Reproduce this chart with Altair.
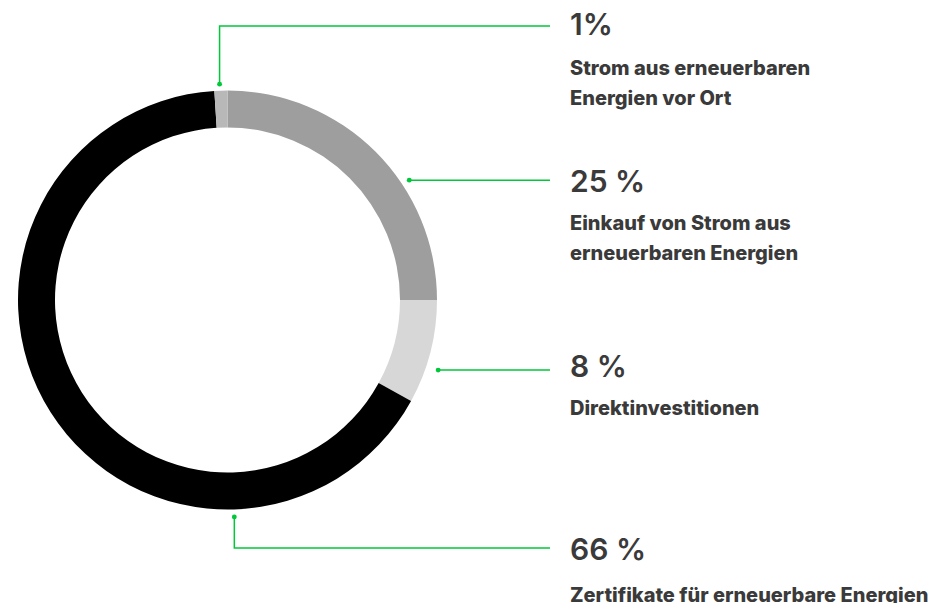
import math
import altair as alt
import pandas as pd

# ---- data (clockwise from 12 o'clock) ----
categories = [
    "Einkauf von Strom aus erneuerbaren Energien",
    "Direktinvestitionen",
    "Zertifikate für erneuerbare Energien",
    "Strom aus erneuerbaren Energien vor Ort",
]
shares = [25, 8, 66, 1]
pct_labels = ["25 %", "8 %", "66 %", "1%"]
desc_lines = [
    ["Einkauf von Strom aus", "erneuerbaren Energien"],
    ["Direktinvestitionen"],
    ["Zertifikate für erneuerbare Energien"],
    ["Strom aus erneuerbaren", "Energien vor Ort"],
]
colors = ["#9e9e9e", "#d7d7d7", "#000000", "#b8b8b8"]

# ---- layout (page pixel coordinates) ----
W, H = 931, 595
CX, CY = 227.5, 300.0
R_OUT, R_IN = 209.5, 172.5
anchor_angle = [56.6, 108.4, 178.2, 357.9]   # degrees, clockwise from top
anchor_radius = [217.7, 222.0, 217.0, 216.0]
row_y = [180.3, 370.0, 548.0, 26.0]          # leader horizontal level
pct_base = [192.0, 377.0, 560.0, 35.0]
desc_base = [229.5, 415.0, 601.5, 74.5]
LEADER_END = 550.0
TEXT_X = 570.0
GREEN = "#00c83a"
TEXT_COLOR = "#3a3a3a"

xs = alt.Scale(domain=[8, 8 + W], nice=False, zero=False)
ys = alt.Scale(domain=[8, 8 + H], nice=False, zero=False, reverse=True)

donut_df = pd.DataFrame({
    "cat": categories,
    "share": shares,
    "idx": list(range(len(categories))),
})

donut = alt.Chart(donut_df).mark_arc(
    radius=R_OUT, radius2=R_IN, stroke=None
).encode(
    theta=alt.Theta("share:Q", stack=True),
    order=alt.Order("idx:Q"),
    color=alt.Color("cat:N", scale=alt.Scale(domain=categories, range=colors), legend=None),
    x=alt.X(datum=CX, scale=xs, axis=None),
    y=alt.Y(datum=CY, scale=ys, axis=None),
)

rows = []
dots = []
for i, c in enumerate(categories):
    a = math.radians(anchor_angle[i])
    dx = CX + anchor_radius[i] * math.sin(a)
    dy = CY - anchor_radius[i] * math.cos(a)
    dots.append({"cat": c, "x": dx, "y": dy})
    pts = [(dx, dy), (dx, row_y[i]), (LEADER_END, row_y[i])]
    for k, (px, py) in enumerate(pts):
        rows.append({"cat": c, "k": k, "x": px, "y": py})
lead_df = pd.DataFrame(rows)
dot_df = pd.DataFrame(dots)

leaders = alt.Chart(lead_df).mark_line(color=GREEN, strokeWidth=1.5, interpolate="linear").encode(
    x=alt.X("x:Q", scale=xs, axis=None),
    y=alt.Y("y:Q", scale=ys, axis=None),
    detail="cat:N",
    order="k:Q",
)

dot_marks = alt.Chart(dot_df).mark_point(filled=True, color=GREEN, size=24, opacity=1, shape="circle").encode(
    x=alt.X("x:Q", scale=xs, axis=None),
    y=alt.Y("y:Q", scale=ys, axis=None),
)

pct_df = pd.DataFrame({"cat": categories, "label": pct_labels, "x": [TEXT_X] * 4, "y": pct_base})
pct_text = alt.Chart(pct_df).mark_text(
    align="left", baseline="alphabetic", font="Inter", fontSize=30, fontWeight=600, color=TEXT_COLOR
).encode(
    x=alt.X("x:Q", scale=xs, axis=None),
    y=alt.Y("y:Q", scale=ys, axis=None),
    text="label:N",
)

desc_df = pd.DataFrame({"cat": categories, "label": desc_lines, "x": [TEXT_X] * 4, "y": desc_base})
desc_text = alt.Chart(desc_df).mark_text(
    align="left", baseline="alphabetic", font="Inter", fontSize=20, fontWeight=800,
    color=TEXT_COLOR, lineHeight=30
).encode(
    x=alt.X("x:Q", scale=xs, axis=None),
    y=alt.Y("y:Q", scale=ys, axis=None),
    text="label",
)

chart = alt.layer(donut, leaders, dot_marks, pct_text, desc_text).resolve_scale(
    color="independent"
).properties(
    width=W, height=H, padding=0, autosize=alt.AutoSizeParams(type="none")
).configure_view(stroke=None)

chart.save("out.html", embed_options={"renderer": "svg", "actions": False})
